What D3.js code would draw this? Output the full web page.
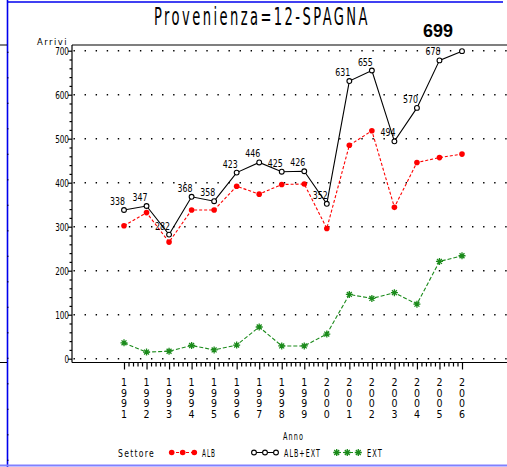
<!DOCTYPE html>
<html><head><meta charset="utf-8">
<script src="https://cdn.jsdelivr.net/npm/d3@7"></script>
<style>body{margin:0;background:#fff}svg{display:block}</style>
</head><body>
<script>
const years = [1991,1992,1993,1994,1995,1996,1997,1998,1999,2000,2001,2002,2003,2004,2005,2006];
const albExt = [338,347,282,368,358,423,446,425,426,352,631,655,494,570,678,699];
const alb = [302,332,265,338,338,392,374,396,397,296,485,518,344,446,457,465];
const ext = [36,15,17,30,20,31,72,29,29,56,146,137,150,124,221,234];
const yTicks = [0,100,200,300,400,500,600,700];
const title = "Provenienza=12-SPAGNA";
const legendItems = ["ALB","ALB+EXT","EXT"];

const W = 507, H = 467;
const NF = "'Liberation Sans Narrow','Arial Narrow','DejaVu Sans Condensed','Liberation Sans',sans-serif";
const AF = "'Liberation Sans',Arial,sans-serif";
const svg = d3.select("body").append("svg").attr("width", W).attr("height", H);

const x = d3.scaleLinear().domain([1991, 2006]).range([124, 462]);
const y = d3.scaleLinear().domain([0, 700]).range([358.7, 50.7]);
const axisY = 362.5, axisX = 72;

// text fitted to a target width by horizontal scaling
function txt(s, px, py, o = {}) {
  const t = svg.append("text").attr("x", 0).attr("y", 0).text(s)
    .attr("font-family", o.family || NF).attr("font-size", o.size || 11)
    .attr("text-anchor", o.anchor || "start").attr("fill", o.fill || "#000")
    .attr("transform", `translate(${px},${py})`);
  if (o.weight) t.attr("font-weight", o.weight);
  if (o.ls) t.attr("letter-spacing", o.ls);
  if (o.len) {
    const w = t.node().getBBox().width;
    if (w > 0) t.attr("transform", `translate(${px},${py}) scale(${o.len / w},1)`);
  }
  return t;
}

// page decorations
svg.append("line").attr("x1", 7.5).attr("x2", 7.5).attr("y1", 0).attr("y2", H).attr("stroke", "#0000ee").attr("stroke-width", 1.6);
svg.append("line").attr("x1", 7).attr("x2", 503).attr("y1", 2).attr("y2", 2).attr("stroke", "#0000ee").attr("stroke-width", 1.6);
svg.append("line").attr("x1", 0).attr("x2", W).attr("y1", 465.5).attr("y2", 465.5).attr("stroke", "#8080ff").attr("stroke-width", 2);
svg.append("line").attr("x1", 0).attr("x2", 7).attr("y1", 45).attr("y2", 45).attr("stroke", "#000");
svg.append("line").attr("x1", 0).attr("x2", 7).attr("y1", 362.5).attr("y2", 362.5).attr("stroke", "#000");
d3.range(51.7, H, 25.5).forEach(v => svg.append("rect").attr("x", 7).attr("y", v).attr("width", 1.5).attr("height", 1.2).attr("fill", "#000044"));

// title
txt(title, 154, 25, {size: 24, ls: 4, len: 216});

// gridlines
svg.append("g").selectAll("line").data(yTicks).join("line")
  .attr("x1", 73.5).attr("x2", W).attr("y1", d => y(d)).attr("y2", d => y(d))
  .attr("stroke", "#000").attr("stroke-width", 1.4).attr("stroke-dasharray", "1.4 9.67");

// frame
svg.append("line").attr("x1", axisX).attr("x2", W).attr("y1", 45).attr("y2", 45).attr("stroke", "#000").attr("stroke-width", 1.2);
svg.append("line").attr("x1", axisX).attr("x2", axisX).attr("y1", 45).attr("y2", axisY).attr("stroke", "#000").attr("stroke-width", 1.2);
svg.append("line").attr("x1", axisX).attr("x2", W).attr("y1", axisY).attr("y2", axisY).attr("stroke", "#000").attr("stroke-width", 1.2);

// y axis
const gy = svg.append("g").attr("transform", `translate(${axisX},0)`);
gy.call(d3.axisLeft(y).tickValues(yTicks).tickSize(4).tickSizeOuter(0).tickFormat(""));
const minorY = d3.range(0, 701, 20).filter(v => v % 100 !== 0);
const gy2 = svg.append("g").attr("transform", `translate(${axisX},0)`);
gy2.call(d3.axisLeft(y).tickValues(minorY).tickSize(2.5).tickSizeOuter(0).tickFormat(""));
[gy, gy2].forEach(g => { g.select(".domain").remove(); g.selectAll("line").attr("stroke-width", 1.2); });
yTicks.forEach(v => txt(String(v), 69, y(v) + 4, {anchor: "end", size: 10, len: String(v).length * 4.7}));
txt("Arrivi", 37, 44.5, {size: 9.5, ls: 1.5, len: 31});

// x axis
const gx = svg.append("g").attr("transform", `translate(0,${axisY})`);
gx.call(d3.axisBottom(x).tickValues(years).tickSize(7).tickSizeOuter(0).tickFormat(""));
const minorX = [];
years.slice(0, -1).forEach(yr => { for (let k = 1; k < 5; k++) minorX.push(yr + k / 5); });
const gx2 = svg.append("g").attr("transform", `translate(0,${axisY})`);
gx2.call(d3.axisBottom(x).tickValues(minorX).tickSize(4).tickSizeOuter(0).tickFormat(""));
[gx, gx2].forEach(g => { g.select(".domain").remove(); g.selectAll("line").attr("stroke-width", 1.2); });
years.forEach(yr => {
  svg.append("text").attr("x", x(yr)).attr("y", 376).text(String(yr))
    .attr("font-family", NF).attr("font-size", 10.5).attr("letter-spacing", -1.5)
    .style("writing-mode", "vertical-rl").style("text-orientation", "upright");
});
txt("Anno", 283, 440, {size: 10, ls: 1.5, len: 21});

// series
const line = vals => d3.line().x((d, i) => x(years[i])).y(d => y(d))(vals);
svg.append("path").attr("d", line(ext)).attr("fill", "none").attr("stroke", "#1a8a1a").attr("stroke-width", 1.1).attr("stroke-dasharray", "4 2");
svg.append("path").attr("d", line(alb)).attr("fill", "none").attr("stroke", "#ff0000").attr("stroke-width", 1.1).attr("stroke-dasharray", "3 2");
svg.append("path").attr("d", line(albExt)).attr("fill", "none").attr("stroke", "#000").attr("stroke-width", 1.1);

const starPath = r => `M${-r},0H${r}M0,${-r}V${r}M${-r*0.7},${-r*0.7}L${r*0.7},${r*0.7}M${-r*0.7},${r*0.7}L${r*0.7},${-r*0.7}`;
function dot(g, cx, cy) { g.append("circle").attr("cx", cx).attr("cy", cy).attr("r", 2.8).attr("fill", "#ff0000"); }
function ring(g, cx, cy) { g.append("circle").attr("cx", cx).attr("cy", cy).attr("r", 2.4).attr("fill", "#fff").attr("stroke", "#000").attr("stroke-width", 1.1); }
function star(g, cx, cy) { g.append("path").attr("d", starPath(3.5)).attr("transform", `translate(${cx},${cy})`).attr("stroke", "#1a8a1a").attr("stroke-width", 1.3).attr("fill", "none"); }

const gm = svg.append("g");
ext.forEach((v, i) => star(gm, x(years[i]), y(v)));
alb.forEach((v, i) => dot(gm, x(years[i]), y(v)));
albExt.forEach((v, i) => ring(gm, x(years[i]), y(v)));

// data labels
albExt.forEach((v, i) => {
  if (i === albExt.length - 1) return;
  txt(String(v), x(years[i]) + 1, y(v) - 5, {anchor: "end", size: 11, len: 15});
});
txt(String(albExt[albExt.length - 1]), 438, 37, {family: AF, size: 19, weight: "bold", anchor: "middle", len: 30});

// legend
txt("Settore", 118, 457, {size: 10, ls: 1.5, len: 37});
const ly = 452.5;
const lg = svg.append("g");
lg.append("line").attr("x1", 171).attr("x2", 195).attr("y1", ly).attr("y2", ly).attr("stroke", "#ff0000").attr("stroke-dasharray", "3 2");
[171.7, 182.7, 194.3].forEach(cx => dot(lg, cx, ly));
txt(legendItems[0], 202, 457, {size: 10, ls: 1.5, len: 14});
lg.append("line").attr("x1", 254).attr("x2", 276).attr("y1", ly).attr("y2", ly).attr("stroke", "#000");
[254, 265, 276].forEach(cx => ring(lg, cx, ly));
txt(legendItems[1], 284, 457, {size: 10, ls: 1.5, len: 37});
lg.append("line").attr("x1", 337).attr("x2", 358).attr("y1", ly).attr("y2", ly).attr("stroke", "#1a8a1a").attr("stroke-dasharray", "4 2");
[336.7, 347.3, 358.3].forEach(cx => star(lg, cx, ly));
txt(legendItems[2], 367, 457, {size: 10, ls: 1.5, len: 16});
</script>
</body></html>
